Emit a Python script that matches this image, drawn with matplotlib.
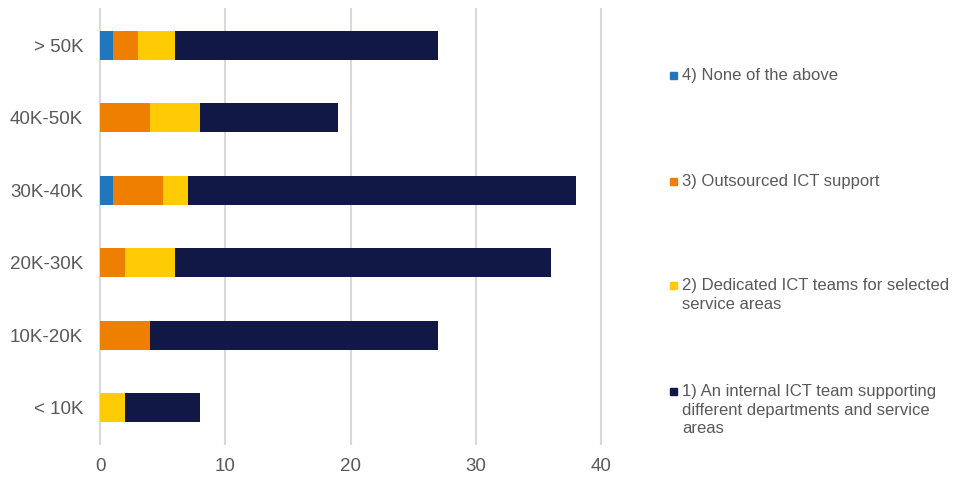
import numpy as np
import matplotlib.pyplot as plt
from matplotlib.patches import Rectangle

plt.rcParams['font.family'] = ['Liberation Sans', 'DejaVu Sans']

# categories listed bottom to top
categories = ['< 10K', '10K-20K', '20K-30K', '30K-40K', '40K-50K', '> 50K']

internal_team = [6, 23, 30, 31, 11, 21]   # 1)
dedicated_teams = [2, 0, 4, 2, 4, 3]      # 2)
outsourced = [0, 4, 2, 4, 4, 2]           # 3)
none_above = [0, 0, 0, 1, 0, 1]           # 4)

labels = [
    '1) An internal ICT team supporting\ndifferent departments and service\nareas',
    '2) Dedicated ICT teams for selected\nservice areas',
    '3) Outsourced ICT support',
    '4) None of the above',
]
colors = ['#121845', '#FFCB05', '#EF7F00', '#2176BC']

text_col = '#595959'
grid_col = '#D9D9D9'

fig = plt.figure(figsize=(9.57, 4.83), dpi=100)
ax = fig.add_axes([100 / 957, 39 / 483, 501 / 957, 435 / 483])

y = np.arange(len(categories))
# stacking order from the axis outwards: 4), 3), 2), 1)
series = [none_above, outsourced, dedicated_teams, internal_team]
series_colors = [colors[3], colors[2], colors[1], colors[0]]
left = np.zeros(len(categories))
for vals, col in zip(series, series_colors):
    vals = np.array(vals, dtype=float)
    ax.barh(y, vals, left=left, height=0.4, color=col, edgecolor='none', zorder=3)
    left += vals

ax.set_xlim(0, 40)
ax.set_ylim(-0.5, len(categories) - 0.5)
ax.set_xticks([0, 10, 20, 30, 40])
ax.set_yticks(y)
ax.set_yticklabels(categories)
ax.tick_params(axis='both', colors=text_col, labelsize=13.5, length=0)
ax.tick_params(axis='x', pad=10)
ax.tick_params(axis='y', pad=12)
for lab in ax.get_xticklabels() + ax.get_yticklabels():
    lab.set_color(text_col)

for s in ax.spines.values():
    s.set_visible(False)
ax.grid(axis='x', color=grid_col, linewidth=1.5, zorder=0)
ax.set_axisbelow(True)
for gl in ax.get_xgridlines():
    gl.set_clip_on(False)

# legend, drawn by hand so the marker sits on the first text line
W, H = 957, 483
legend_y = [75, 181, 285, 391]
legend_order = [3, 2, 1, 0]
for yy, idx in zip(legend_y, legend_order):
    fig.patches.append(Rectangle((670 / W, 1 - (yy + 4) / H), 7 / W, 7 / H,
                                 transform=fig.transFigure, color=colors[idx]))
    fig.text(682 / W, 1 - (yy - 7) / H, labels[idx], ha='left', va='top',
             fontsize=12, color=text_col, linespacing=1.3)

fig.savefig('out.png', dpi=100)
